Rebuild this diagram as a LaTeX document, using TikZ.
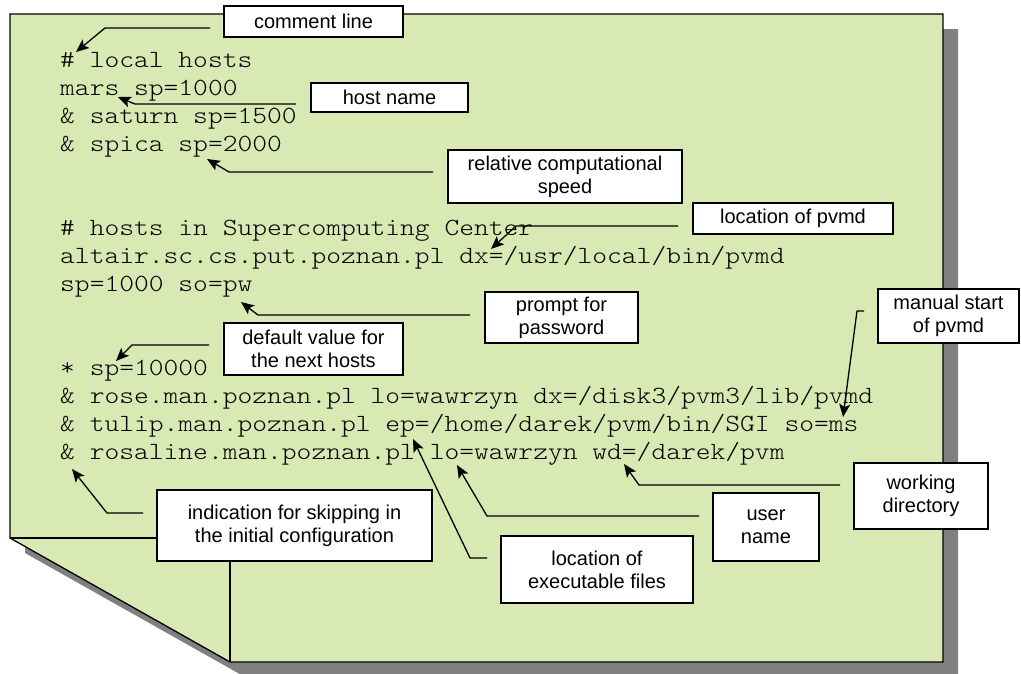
\documentclass[tikz,border=0pt]{standalone}
\usepackage{fontspec}
\setsansfont{Liberation Sans}
\setmonofont{lmmonolt10-regular}[Extension=.otf, FakeStretch=1.14]
\usetikzlibrary{arrows.meta}
\definecolor{pagegreen}{RGB}{216,233,179}
\definecolor{shadowgray}{RGB}{128,128,128}

\begin{document}
\begin{tikzpicture}[x=1pt,y=-1pt,
  codeline/.style={anchor=base west, inner sep=0pt, text=black,
                   font=\fontsize{24.7}{28}\selectfont\ttfamily},
  notebox/.style={draw=black, line width=1.3pt, fill=white, inner sep=0pt, align=center,
                  font=\fontsize{20}{23}\selectfont\sffamily},
  pointer/.style={draw=black, line width=1.3pt, line join=round,
                  -{Stealth[length=13pt,width=11pt,inset=3pt]}},
  pageedge/.style={draw=black, line width=1.3pt, line join=miter}]
\useasboundingbox (0,0) rectangle (1021,673);

% page shadow and page with folded lower-left corner
\fill[shadowgray] (25,29) -- (958,29) -- (958,677) -- (245,677) -- (25,553) -- cycle;
\path[pageedge, fill=pagegreen] (10,14) -- (943,14) -- (943,662) -- (230,662) -- (10,538) -- cycle;
\draw[pageedge] (10,538) -- (230,538) -- (230,662);

% host file listing
\node[codeline] (l1)  at (60,67)  {\# local hosts};
\node[codeline] (l2)  at (60,95)  {mars sp=1000};
\node[codeline] (l3)  at (60,123) {\& saturn sp=1500};
\node[codeline] (l4)  at (60,151) {\& spica sp=2000};
\node[codeline] (l7)  at (60,235) {\# hosts in Supercomputing Center};
\node[codeline] (l8)  at (60,263) {altair.sc.cs.put.poznan.pl dx=/usr/local/bin/pvmd};
\node[codeline] (l9)  at (60,291) {sp=1000 so=pw};
\node[codeline] (l12) at (60,375) {* sp=10000};
\node[codeline] (l13) at (60,403) {\& rose.man.poznan.pl lo=wawrzyn dx=/disk3/pvm3/lib/pvmd};
\node[codeline] (l14) at (60,431) {\& tulip.man.poznan.pl ep=/home/darek/pvm/bin/SGI so=ms};
\node[codeline] (l15) at (60,459) {\& rosaline.man.poznan.pl lo=wawrzyn wd=/darek/pvm};

% arrow anchor points
\coordinate (cA) at (210,28);  \coordinate (cB) at (105,28);  \coordinate (cT) at (76,52);
\coordinate (hA) at (296,104); \coordinate (hB) at (135,104); \coordinate (hT) at (118,97);
\coordinate (sA) at (433,172); \coordinate (sB) at (229,172); \coordinate (sT) at (207,159);
\coordinate (dA) at (678,226); \coordinate (dB) at (516,226); \coordinate (dT) at (491,249);
\coordinate (pA) at (470,315); \coordinate (pB) at (258,315); \coordinate (pT) at (241,302);
\coordinate (vA) at (209,345); \coordinate (vB) at (132,345); \coordinate (vT) at (116,361);
\coordinate (mA) at (864,311); \coordinate (mB) at (857,311); \coordinate (mT) at (843,417);
\coordinate (wA) at (840,485); \coordinate (wB) at (639,485); \coordinate (wT) at (624,464);
\coordinate (uA) at (699,516); \coordinate (uB) at (487,516); \coordinate (uT) at (457,465);
\coordinate (eA) at (487,558); \coordinate (eB) at (470,558); \coordinate (eT) at (413,439);
\coordinate (iA) at (143,513); \coordinate (iB) at (107,513); \coordinate (iT) at (72,469);

\draw[pointer] (cA) -- (cB) -- (cT);
\draw[pointer] (hA) -- (hB) -- (hT);
\draw[pointer] (sA) -- (sB) -- (sT);
\draw[pointer] (dA) -- (dB) -- (dT);
\draw[pointer] (pA) -- (pB) -- (pT);
\draw[pointer] (vA) -- (vB) -- (vT);
\draw[pointer] (mA) -- (mB) -- (mT);
\draw[pointer] (wA) -- (wB) -- (wT);
\draw[pointer] (uA) -- (uB) -- (uT);
\draw[pointer] (eA) -- (eB) -- (eT);
\draw[pointer] (iA) -- (iB) -- (iT);

% explanation boxes
\node[notebox, minimum width=179pt, minimum height=31pt] (comment) at (313.5,21.5) {comment line};
\node[notebox, minimum width=157pt, minimum height=29pt] (hostname) at (389.5,97.5) {host name};
\node[notebox, minimum width=234pt, minimum height=53pt] (speed) at (565,176.5) {relative computational\\speed};
\node[notebox, minimum width=200pt, minimum height=31pt] (pvmdloc) at (793,218.5) {location of pvmd};
\node[notebox, minimum width=153pt, minimum height=51pt] (prompt) at (561.5,317.5) {prompt for\\password};
\node[notebox, minimum width=179pt, minimum height=52pt] (default) at (313.5,349) {default value for\\the next hosts};
\node[notebox, minimum width=141pt, minimum height=54pt] (manual) at (948.5,316) {manual start\\of pvmd};
\node[notebox, minimum width=134pt, minimum height=66pt] (workdir) at (921,496) {working\\directory};
\node[notebox, minimum width=106pt, minimum height=68pt] (user) at (766,527) {user\\name};
\node[notebox, minimum width=192pt, minimum height=67pt] (exec) at (597,569.5) {location of\\executable files};
\node[notebox, minimum width=275pt, minimum height=71pt] (skip) at (294.5,525.5) {indication for skipping in\\the initial configuration};
\end{tikzpicture}
\end{document}
